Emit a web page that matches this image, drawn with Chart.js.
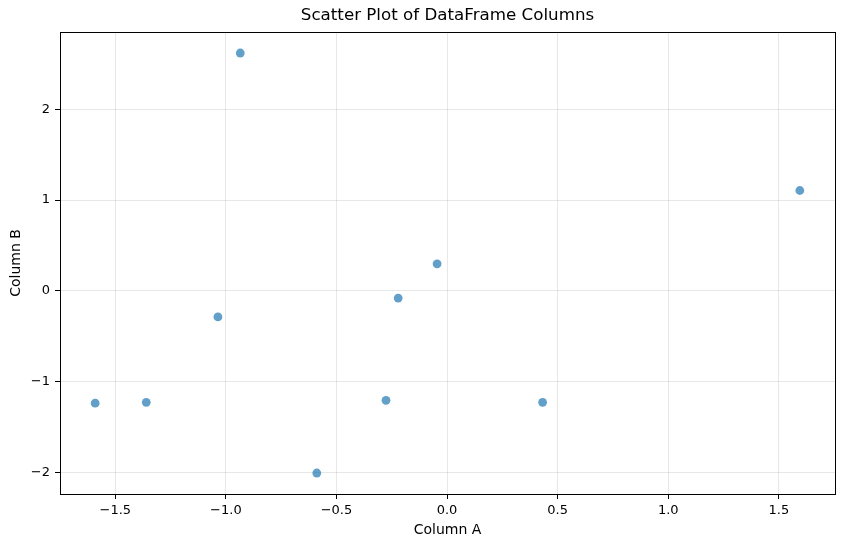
<!DOCTYPE html>
<html>
<head>
<meta charset="utf-8">
<script src="https://cdn.jsdelivr.net/npm/chart.js@4/dist/chart.umd.min.js"></script>
<style>
html,body{margin:0;padding:0;background:#fff;}
#wrap{width:844px;height:547px;}
</style>
</head>
<body>
<div id="wrap"><canvas id="c" width="844" height="547"></canvas></div>
<script>
const columnA = [-0.935, 1.595, -0.045, -0.221, -1.036, -1.591, -1.360, -0.276, 0.432, -0.589];
const columnB = [2.619, 1.105, 0.298, -0.080, -0.287, -1.237, -1.227, -1.205, -1.227, -2.006];
const xTicks = [-1.5, -1.0, -0.5, 0.0, 0.5, 1.0, 1.5];
const yTicks = [-2, -1, 0, 1, 2];

const points = columnA.map((a, i) => ({x: a, y: columnB[i]}));
const fmt = (v, d) => (v < 0 ? '\u2212' : '') + Math.abs(v).toFixed(d);

const framePlugin = {
  id: 'frame',
  afterDraw(chart) {
    const {ctx, chartArea: a} = chart;
    ctx.save();
    ctx.strokeStyle = '#000';
    ctx.lineWidth = 1;
    ctx.strokeRect(Math.round(a.left) + 0.5, Math.round(a.top) + 0.5, Math.round(a.right - a.left), Math.round(a.bottom - a.top));
    ctx.restore();
  }
};

const tickFont = {family: 'DejaVu Sans', size: 13};
const labelFont = {family: 'DejaVu Sans', size: 14};

new Chart(document.getElementById('c'), {
  type: 'scatter',
  data: {
    datasets: [{
      label: 'data',
      data: points,
      backgroundColor: 'rgba(31,119,180,0.7)',
      borderColor: 'rgba(31,119,180,0.7)',
      borderWidth: 0,
      pointRadius: 4.4,
      pointHoverRadius: 4.4
    }]
  },
  options: {
    responsive: false,
    animation: false,
    events: [],
    layout: {padding: {left: 0, right: 9, top: 0, bottom: 0}},
    plugins: {
      legend: {display: false},
      tooltip: {enabled: false},
      title: {
        display: true,
        fullSize: false,
        text: 'Scatter Plot of DataFrame Columns',
        color: '#000',
        font: {family: 'DejaVu Sans', size: 16.7, weight: 'normal'},
        padding: {top: 6, bottom: 6}
      }
    },
    scales: {
      x: {
        type: 'linear',
        min: -1.750,
        max: 1.754,
        afterBuildTicks(scale) { scale.ticks = xTicks.map(v => ({value: v})); },
        afterFit(scale) { scale.height = 53; },
        ticks: {
          color: '#000', font: tickFont, padding: 4, maxRotation: 0,
          includeBounds: false,
          callback: v => fmt(v, 1)
        },
        grid: {color: 'rgba(176,176,176,0.3)', tickColor: '#000', tickLength: 5, drawTicks: true},
        border: {color: '#000', width: 1},
        title: {display: true, text: 'Column A', color: '#000', font: labelFont, padding: {top: 0, bottom: 8}}
      },
      y: {
        type: 'linear',
        min: -2.237,
        max: 2.850,
        afterBuildTicks(scale) { scale.ticks = yTicks.map(v => ({value: v})); },
        afterFit(scale) { scale.width = 60; },
        ticks: {
          color: '#000', font: tickFont, padding: 5,
          includeBounds: false,
          callback: v => fmt(v, 0)
        },
        grid: {color: 'rgba(176,176,176,0.3)', tickColor: '#000', tickLength: 5, drawTicks: true},
        border: {color: '#000', width: 1},
        title: {display: true, text: 'Column B', color: '#000', font: labelFont, padding: {top: 8, bottom: 0}}
      }
    }
  },
  plugins: [framePlugin]
});
</script>
</body>
</html>
